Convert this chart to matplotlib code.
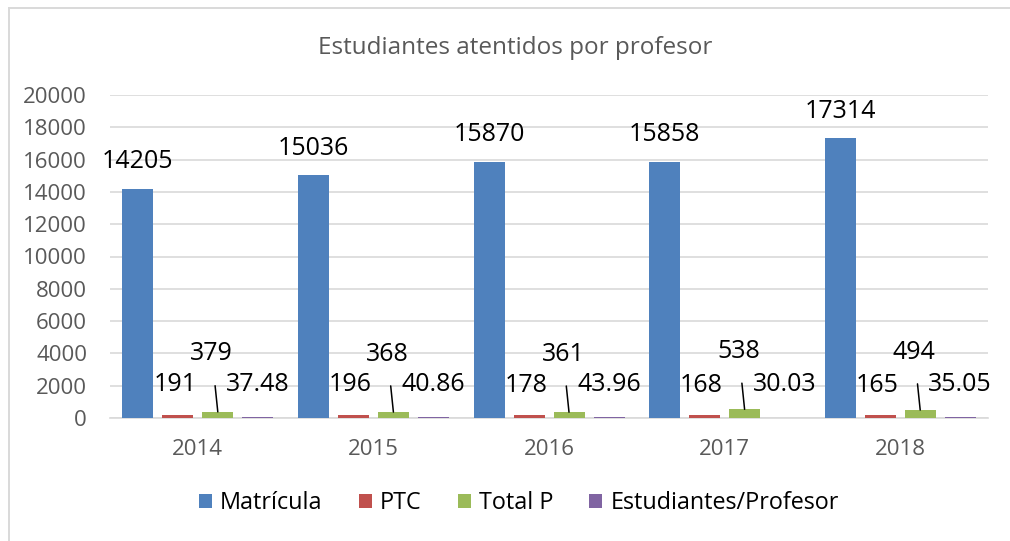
import matplotlib
matplotlib.use("Agg")
import matplotlib.pyplot as plt
import numpy as np
from matplotlib.lines import Line2D

years = ["2014", "2015", "2016", "2017", "2018"]
matricula = [14205, 15036, 15870, 15858, 17314]
ptc = [191, 196, 178, 168, 165]
total_p = [379, 368, 361, 538, 494]
est_prof = [37.48, 40.86, 43.96, 30.03, 35.05]
series_names = ["Matrícula", "PTC", "Total P", "Estudiantes/Profesor"]
colors = ["#4f81bd", "#c0504d", "#9bbb59", "#8064a2"]
yticks = list(range(0, 20001, 2000))
title = "Estudiantes atentidos por profesor"

plt.rcParams['font.family'] = ['Open Sans', 'DejaVu Sans']

W, H = 1010, 541
fig = plt.figure(figsize=(W / 100, H / 100), dpi=100)
# chart frame (top and left edges visible)
fig.add_artist(Line2D([8.5 / W, 1.01], [1 - 7.5 / H, 1 - 7.5 / H],
                      transform=fig.transFigure, color="#d9d9d9", lw=1.4))
fig.add_artist(Line2D([8.5 / W, 8.5 / W], [-0.01, 1 - 7.5 / H],
                      transform=fig.transFigure, color="#d9d9d9", lw=1.4))

ax = fig.add_axes([110 / W, 1 - 418 / H, 878 / W, 323 / H])
x = np.arange(len(years))
step = 40 / 175.6
bw = 31 / 175.6
data = [matricula, ptc, total_p, est_prof]
bars = []
for i, (vals, c, name) in enumerate(zip(data, colors, series_names)):
    b = ax.bar(x + (i - 1.5) * step, vals, width=bw, color=c, label=name,
               zorder=3, linewidth=0)
    bars.append(b)

px = 0.72  # points per pixel
lbl_kw = dict(ha="center", va="center", fontsize=18, color="black",
              textcoords="offset points", zorder=5)
for j in range(len(years)):
    xb = x[j] - 1.5 * step
    ax.annotate(f"{matricula[j]}", (xb, matricula[j]), xytext=(0, 27 * px), **lbl_kw)
    xr = x[j] - 0.5 * step
    ax.annotate(f"{ptc[j]}", (xr, ptc[j]), xytext=(-3 * px, 30 * px), **lbl_kw)
    xg = x[j] + 0.5 * step
    ax.annotate(f"{total_p[j]}", (xg, total_p[j]), xytext=(-6 * px, 58 * px),
                arrowprops=dict(arrowstyle="-", color="black", lw=1.1,
                                shrinkA=12, shrinkB=0), **lbl_kw)
    xp = x[j] + 1.5 * step
    ax.annotate(f"{est_prof[j]:.2f}", (xp, est_prof[j]), xytext=(0, 33 * px), **lbl_kw)

ax.set_xlim(-0.5, len(years) - 0.5)
ax.set_ylim(0, 20000)
ax.set_yticks(yticks)
ax.set_yticklabels([str(t) for t in yticks])
ax.set_xticks(x)
ax.set_xticklabels(years)
ax.tick_params(axis="both", length=0, labelsize=16, colors="#595959")
ax.tick_params(axis="y", pad=16.5)
ax.tick_params(axis="x", pad=15)
ax.grid(axis="y", color="#d9d9d9", linewidth=1.2, zorder=0)
for s in ["top", "right", "left"]:
    ax.spines[s].set_visible(False)
ax.spines["bottom"].set_color("#d9d9d9")
ax.spines["bottom"].set_linewidth(1.2)

fig.text(515 / W, 1 - 48 / H, title, ha="center", va="center",
         fontsize=17.5, color="#595959")

fig.legend(handles=bars, labels=series_names, loc="center",
           bbox_to_anchor=(519 / W, 1 - 503 / H), ncol=4, frameon=False,
           fontsize=16.8, handlelength=0.55, handleheight=0.55,
           handletextpad=0.35, columnspacing=1.55)

fig.savefig("out.png", dpi=100, facecolor="white")
